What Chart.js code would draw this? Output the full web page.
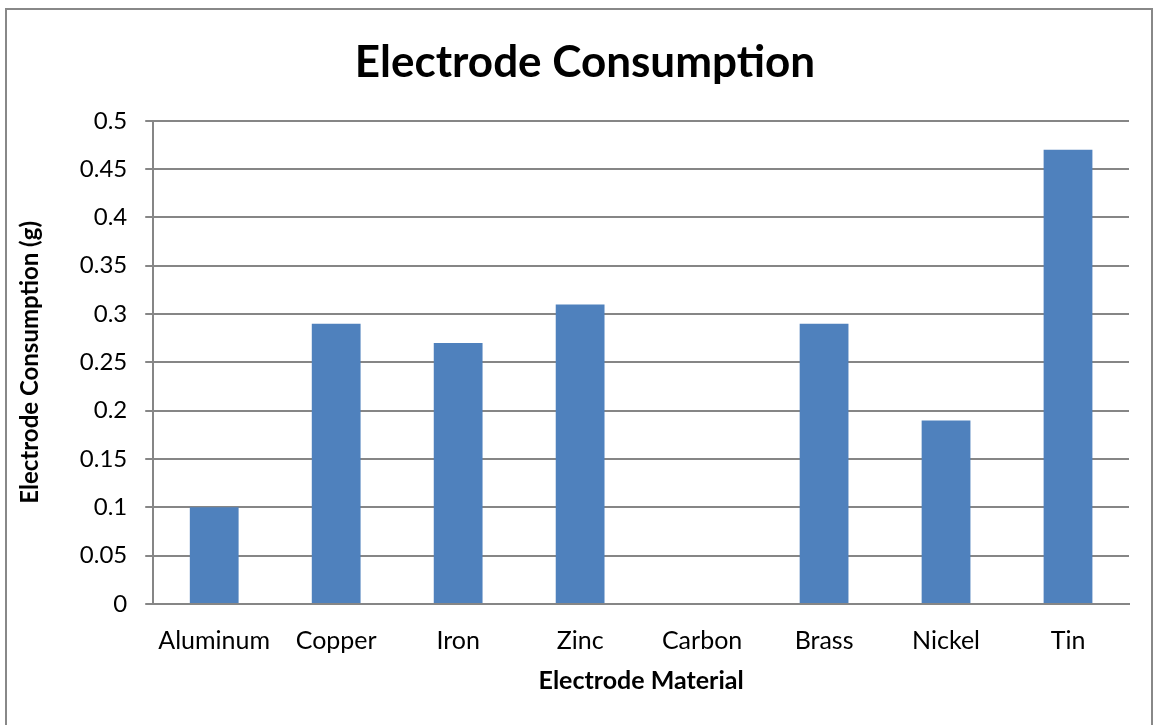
<!DOCTYPE html>
<html>
<head>
<meta charset="utf-8">
<script src="https://cdn.jsdelivr.net/npm/chart.js@4.4.1/dist/chart.umd.min.js"></script>
<style>
  html, body { margin: 0; padding: 0; background: #fff; }
  #wrap { width: 1153px; height: 725px; position: relative; }
</style>
</head>
<body>
<div id="wrap"><canvas id="chart"></canvas></div>
<script>
var materials = ["Aluminum", "Copper", "Iron", "Zinc", "Carbon", "Brass", "Nickel", "Tin"];
var consumption = [0.10, 0.29, 0.27, 0.31, 0, 0.29, 0.19, 0.47];
var yTicks = [0, 0.05, 0.1, 0.15, 0.2, 0.25, 0.3, 0.35, 0.4, 0.45, 0.5];

var fontFamily = "Lato, 'Open Sans', sans-serif";
var gridColor = "#868686";

// grey frame around the whole chart
var framePlugin = {
  id: "frame",
  beforeDraw: function (chart) {
    var c = chart.ctx;
    c.save();
    c.fillStyle = "#fff";
    c.fillRect(0, 0, chart.width, chart.height);
    c.strokeStyle = "#888";
    c.lineWidth = 2;
    c.strokeRect(6, 9, chart.width - 7, chart.height);
    c.restore();
  }
};

var ctx = document.getElementById("chart").getContext("2d");

var myBar = new Chart(ctx, {
  type: "bar",
  data: {
    labels: materials,
    datasets: [{
      data: consumption,
      backgroundColor: "#4F81BD",
      borderWidth: 0,
      barPercentage: 0.4,
      categoryPercentage: 1
    }]
  },
  options: {
    responsive: true,
    maintainAspectRatio: false,
    animation: false,
    layout: { padding: { left: 41, right: 24, top: 0, bottom: 29 } },
    plugins: {
      legend: { display: false },
      tooltip: { enabled: false },
      title: {
        display: true,
        text: "Electrode Consumption",
        color: "#000",
        font: { family: fontFamily, size: 44, weight: "bold" },
        padding: { top: 36, bottom: 32 }
      }
    },
    scales: {
      x: {
        grid: { display: false },
        border: { display: true, color: gridColor, width: 2 },
        ticks: {
          color: "#000",
          font: { family: fontFamily, size: 25 },
          padding: 14,
          maxRotation: 0
        },
        title: {
          display: true,
          text: "Electrode Material",
          color: "#000",
          font: { family: fontFamily, size: 25, weight: "bold" },
          padding: { top: -4, bottom: 0 }
        }
      },
      y: {
        min: 0,
        max: 0.5,
        afterBuildTicks: function (axis) {
          axis.ticks = yTicks.map(function (v) { return { value: v }; });
        },
        grid: {
          color: gridColor,
          lineWidth: 2,
          tickLength: 8,
          drawTicks: true
        },
        border: { display: true, color: gridColor, width: 2 },
        ticks: {
          color: "#000",
          font: { family: fontFamily, size: 24 },
          padding: 18,
          callback: function (v) { return String(+Number(v).toFixed(2)); }
        },
        title: {
          display: true,
          text: "Electrode Consumption (g)",
          color: "#000",
          font: { family: fontFamily, size: 24, weight: "bold" },
          padding: { top: -25, bottom: 17 }
        }
      }
    }
  },
  plugins: [framePlugin]
});
</script>
</body>
</html>
